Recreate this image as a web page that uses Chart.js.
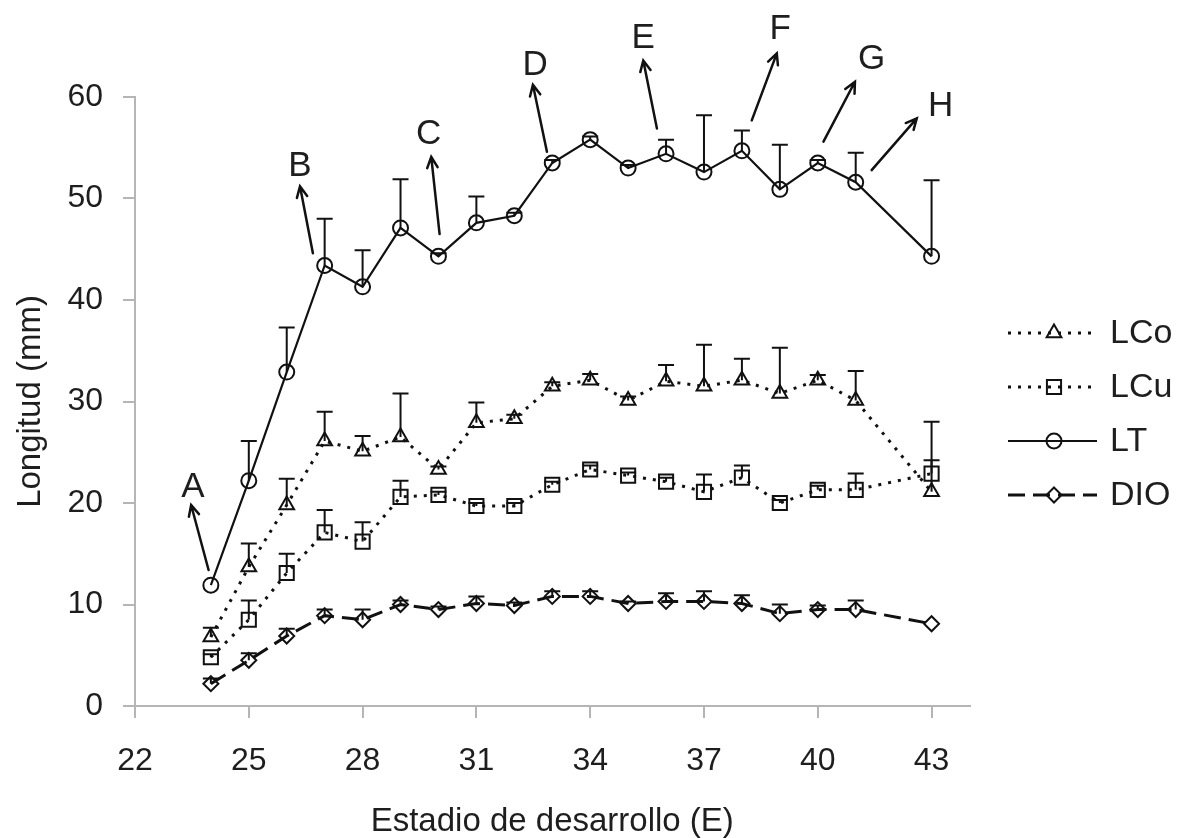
<!DOCTYPE html>
<html>
<head>
<meta charset="utf-8">
<script src="https://cdn.jsdelivr.net/npm/chart.js@4.4.1/dist/chart.umd.min.js"></script>
<style>
html,body{margin:0;padding:0;background:#fff;}
#wrap{width:1178px;height:838px;position:relative;}
</style>
</head>
<body>
<div id="wrap"><canvas id="c" width="1178" height="838"></canvas></div>
<script>
// ---- data ----
const stages = [24,25,26,27,28,29,30,31,32,33,34,35,36,37,38,39,40,41,43];
const xTicks = [22,25,28,31,34,37,40,43];
const yTicks = [0,10,20,30,40,50,60];

const seriesNames = ['LCo','LCu','LT','DIO'];

const LCo    = [6.8,13.7,19.8,26.1,25.1,26.5,23.3,27.9,28.3,31.5,32.1,30.1,32.0,31.5,32.1,30.8,32.1,30.1,21.1];
const LCoErr = [0.9, 2.3, 2.6, 2.9, 1.5, 4.3, 0.3, 2.0, 0.4, 0.4, 0.6, 0.4, 1.6, 4.1, 2.1, 4.5, 0.5, 2.9, 6.9];

const LCu    = [4.8,8.5,13.1,17.1,16.2,20.6,20.8,19.7,19.7,21.8,23.3,22.7,22.1,21.1,22.5,20.0,21.3,21.3,22.9];
const LCuErr = [0.3,1.9, 1.9, 2.2, 1.9, 1.6, 0.3, 0.3, 0.3, 0.3, 0.4, 0.3, 0.4, 1.7, 1.2, 0.3, 0.4, 1.6, 1.3];

const LT     = [11.9,22.2,32.9,43.4,41.3,47.1,44.3,47.6,48.3,53.5,55.8,53.0,54.4,52.6,54.7,50.9,53.5,51.6,44.3];
const LTErr  = [0,   3.9, 4.4, 4.6, 3.6, 4.8, 0.3, 2.6, 0.3, 0.3, 0.3, 0.3, 1.4, 5.6, 2.0, 4.4, 0.3, 2.9, 7.5];

const DIO    = [2.2,4.5,6.9,8.9,8.5,10.0,9.5,10.1,9.9,10.8,10.8,10.1,10.3,10.3,10.1,9.1,9.5,9.5,8.1];
const DIOErr = [0.5,0.7,0.7,0.6,1.0,0.4, 0.3,0.7, 0.3,0.5, 0.5, 0.2, 0.8, 1.0, 0.8, 0.9,0.4,0.9,0];

// annotation arrows (data units)
const annotLabels = ['A','B','C','D','E','F','G','H'];
const annotTailX  = [23.94,26.69,30.03,32.86,35.76,38.26,40.15,41.42];
const annotTailY  = [13.4, 44.6, 46.5, 54.6, 56.9, 57.7, 55.6, 52.8];
const annotHeadX  = [23.48,26.35,29.81,32.49,35.40,38.92,40.98,42.61];
const annotHeadY  = [19.8, 51.2, 54.1, 61.2, 63.6, 64.3, 61.5, 57.9];
const annotTextX  = [23.53,26.35,29.74,32.55,35.40,39.01,41.42,43.24];
const annotTextY  = [21.6, 53.3, 56.4, 63.2, 65.9, 66.8, 63.8, 59.2];

// ---- styling ----
const FONT = "'Liberation Sans', Arial, sans-serif";
const AXIS_COLOR = '#b5b5b5';
const TEXT_COLOR = '#1e1e1e';

const styles = {
  LCo: {dash:[3,7], width:3, point:'triangle', radius:8.5},
  LCu: {dash:[3,7], width:3, point:'rect', radius:10},
  LT:  {dash:[], width:2.2, point:'circle', radius:7.5},
  DIO: {dash:[17,8], width:3, point:'rectRot', radius:7.5}
};

function mk(name, vals, errs){
  const s = styles[name];
  return {
    label: name,
    data: stages.map((x,i)=>({x:x, y:vals[i]})),
    errors: errs,
    borderColor:'#111',
    borderWidth:s.width,
    borderDash:s.dash,
    borderCapStyle:'butt',
    tension:0,
    fill:false,
    pointStyle:s.point,
    pointRadius:s.radius,
    pointBorderWidth:2,
    pointBorderColor:'#111',
    pointBackgroundColor:'rgba(0,0,0,0)'
  };
}

const errorBarPlugin = {
  id:'errorBars',
  afterDatasetsDraw(chart){
    const ctx = chart.ctx, xs = chart.scales.x, ys = chart.scales.y;
    ctx.save();
    ctx.strokeStyle = '#111';
    ctx.lineWidth = 2;
    ctx.setLineDash([]);
    chart.data.datasets.forEach(ds=>{
      ds.data.forEach((p,i)=>{
        const e = ds.errors[i];
        if(!e) return;
        const px = xs.getPixelForValue(p.x);
        const py = ys.getPixelForValue(p.y);
        const pt = ys.getPixelForValue(p.y + e);
        ctx.beginPath();
        ctx.moveTo(px, py); ctx.lineTo(px, pt);
        ctx.moveTo(px-8, pt); ctx.lineTo(px+8, pt);
        ctx.stroke();
      });
    });
    ctx.restore();
  }
};

const annotPlugin = {
  id:'annots',
  afterDraw(chart){
    const ctx = chart.ctx, xs = chart.scales.x, ys = chart.scales.y;
    ctx.save();
    ctx.strokeStyle = '#111';
    ctx.fillStyle = TEXT_COLOR;
    ctx.lineWidth = 2.5;
    ctx.setLineDash([]);
    ctx.lineCap = 'round';
    annotLabels.forEach((lab,i)=>{
      const x1 = xs.getPixelForValue(annotTailX[i]), y1 = ys.getPixelForValue(annotTailY[i]);
      const x2 = xs.getPixelForValue(annotHeadX[i]), y2 = ys.getPixelForValue(annotHeadY[i]);
      const ang = Math.atan2(y2-y1, x2-x1);
      const L = 12, a = 0.45;
      ctx.beginPath();
      ctx.moveTo(x1,y1); ctx.lineTo(x2,y2);
      ctx.moveTo(x2 - L*Math.cos(ang-a), y2 - L*Math.sin(ang-a));
      ctx.lineTo(x2,y2);
      ctx.lineTo(x2 - L*Math.cos(ang+a), y2 - L*Math.sin(ang+a));
      ctx.stroke();
      ctx.font = '35px ' + FONT;
      ctx.textAlign = 'center';
      ctx.textBaseline = 'middle';
      ctx.fillText(lab, xs.getPixelForValue(annotTextX[i]), ys.getPixelForValue(annotTextY[i]) + 1);
    });
    ctx.restore();
  }
};

function drawMarker(ctx, style, x, y, r){
  ctx.beginPath();
  if(style==='circle'){ ctx.arc(x,y,r,0,Math.PI*2); }
  else if(style==='triangle'){
    ctx.moveTo(x, y-r);
    ctx.lineTo(x + r*Math.sin(2*Math.PI/3), y - r*Math.cos(2*Math.PI/3));
    ctx.lineTo(x + r*Math.sin(4*Math.PI/3), y - r*Math.cos(4*Math.PI/3));
    ctx.closePath();
  } else if(style==='rect'){
    const s = r*Math.SQRT1_2; ctx.rect(x-s,y-s,2*s,2*s);
  } else {
    ctx.moveTo(x,y-r); ctx.lineTo(x+r,y); ctx.lineTo(x,y+r); ctx.lineTo(x-r,y); ctx.closePath();
  }
  ctx.stroke();
}

const legendPlugin = {
  id:'customLegend',
  afterDraw(chart){
    const ctx = chart.ctx;
    const x0 = 1008, x1 = 1097, xm = 1054, tx = 1110;
    const rows = [333, 387, 441, 495];
    ctx.save();
    ctx.strokeStyle = '#111';
    seriesNames.forEach((n,i)=>{
      const s = styles[n], y = rows[i];
      ctx.lineWidth = s.width;
      ctx.setLineDash(s.dash);
      ctx.lineCap = 'butt';
      ctx.beginPath(); ctx.moveTo(x0,y); ctx.lineTo(x1,y); ctx.stroke();
      ctx.setLineDash([]);
      ctx.lineWidth = 2;
      drawMarker(ctx, s.point, xm, y, s.radius);
      ctx.fillStyle = TEXT_COLOR;
      ctx.font = '34px ' + FONT;
      ctx.textAlign = 'left';
      ctx.textBaseline = 'middle';
      ctx.fillText(n, tx, y + 1);
    });
    ctx.restore();
  }
};

new Chart(document.getElementById('c'), {
  type:'line',
  data:{
    datasets:[
      mk('LT', LT, LTErr),
      mk('LCo', LCo, LCoErr),
      mk('LCu', LCu, LCuErr),
      mk('DIO', DIO, DIOErr)
    ]
  },
  options:{
    responsive:false,
    devicePixelRatio:1,
    animation:false,
    layout:{padding:{top:97, right:208.5, bottom:0, left:0}},
    plugins:{legend:{display:false}, tooltip:{enabled:false}},
    scales:{
      x:{
        type:'linear', min:22, max:44,
        afterBuildTicks: ax => { ax.ticks = xTicks.map(v=>({value:v})); },
        afterFit: s => { s.height = 132; },
        grid:{display:true, drawOnChartArea:false, drawTicks:true, tickLength:12, color:AXIS_COLOR, lineWidth:2},
        border:{display:true, color:AXIS_COLOR, width:2},
        ticks:{font:{family:FONT, size:32}, color:TEXT_COLOR, padding:24, maxRotation:0, autoSkip:false},
        title:{display:true, text:'Estadio de desarrollo (E)', color:TEXT_COLOR,
               font:{family:FONT, size:33, lineHeight:1}, padding:{top:0, bottom:0}}
      },
      y:{
        type:'linear', min:0, max:60,
        afterBuildTicks: ax => { ax.ticks = yTicks.map(v=>({value:v})); },
        afterFit: s => { s.width = 135; },
        grid:{display:true, drawOnChartArea:false, drawTicks:true, tickLength:12, color:AXIS_COLOR, lineWidth:2},
        border:{display:true, color:AXIS_COLOR, width:2},
        ticks:{font:{family:FONT, size:32}, color:TEXT_COLOR, padding:20},
        title:{display:true, text:'Longitud (mm)', color:TEXT_COLOR,
               font:{family:FONT, size:33, lineHeight:1}, padding:{top:14, bottom:0}}
      }
    }
  },
  plugins:[errorBarPlugin, annotPlugin, legendPlugin]
});
</script>
</body>
</html>
